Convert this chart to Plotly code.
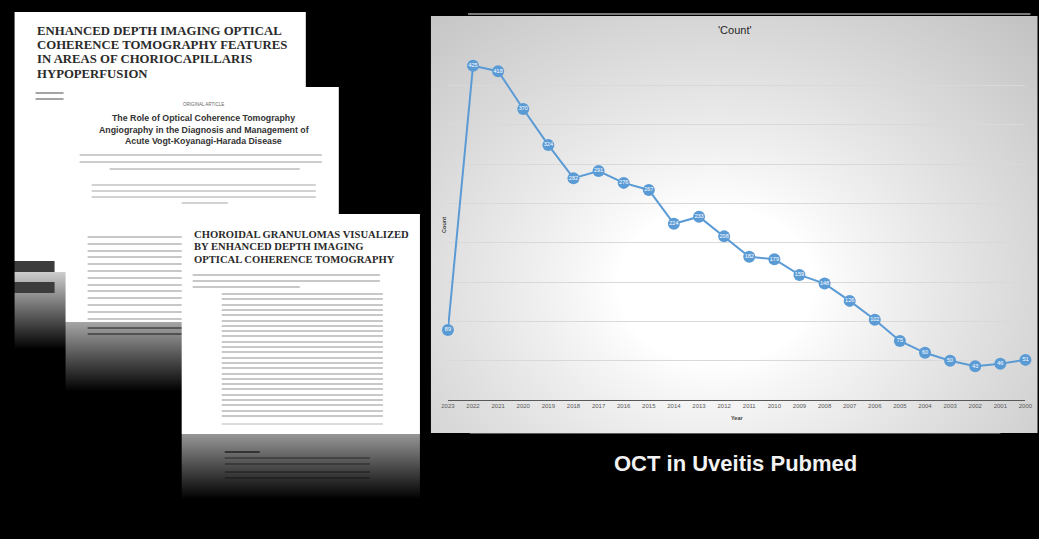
import base64
import struct
import zlib

import numpy as np
import plotly.graph_objects as go

# ---------------- data ----------------
years = ["2023", "2022", "2021", "2020", "2019", "2018", "2017", "2016", "2015", "2014", "2013", "2012",
         "2011", "2010", "2009", "2008", "2007", "2006", "2005", "2004", "2003", "2002", "2001", "2000"]
counts = [89, 425, 418, 370, 324, 282, 291, 276, 267, 224, 233, 208,
          182, 179, 159, 148, 126, 102, 75, 60, 50, 43, 46, 51]

chart_title = "'Count'"
x_title = "Year"
y_title = "Count"
slide_title = "OCT in Uveitis Pubmed"

doc1_title = ["ENHANCED DEPTH IMAGING OPTICAL", "COHERENCE TOMOGRAPHY FEATURES",
              "IN AREAS OF CHORIOCAPILLARIS", "HYPOPERFUSION"]
doc2_kicker = "ORIGINAL ARTICLE"
doc2_title = ["The Role of Optical Coherence Tomography",
              "Angiography in the Diagnosis and Management of",
              "Acute Vogt-Koyanagi-Harada Disease"]
doc3_title = ["CHOROIDAL GRANULOMAS VISUALIZED", "BY ENHANCED DEPTH IMAGING",
              "OPTICAL COHERENCE TOMOGRAPHY"]

W, H = 1039, 539
# the photographed page comes out slightly squeezed horizontally; compensate
SQ_OFF, SQ_S = 7.5, 0.9856


def SX(x):
    return (x - SQ_OFF) / SQ_S


# ---------------- background picture (slide decoration) ----------------
img = np.zeros((H, W), dtype=float)


def rect(x0, x1, y0, y1, v):
    img[y0:y1, x0:x1] = v


def vfade(x0, x1, y0, y1, v0, v1):
    img[y0:y1, x0:x1] = np.linspace(v0, v1, y1 - y0)[:, None]


def textlines(x0, x1, ys, v, scale=False):
    for y in ys:
        yi = int(round(y))
        if scale:
            img[yi:yi + 2, x0:x1] *= v / 255.0
        else:
            img[yi:yi + 2, x0:x1] = np.minimum(img[yi:yi + 2, x0:x1], v)


# document 1
rect(15, 306, 12, 272, 255)
vfade(15, 306, 272, 350, 205, 0)
rect(15, 55, 261, 272, 60)
rect(15, 55, 282, 293, 60)
textlines(36, 64, [92, 98], 165)

# document 2
rect(66, 339, 87, 322, 255)
vfade(66, 339, 322, 392, 165, 0)
textlines(80, 322, [154, 161], 205)
textlines(110, 300, [168], 205)
textlines(92, 316, [184, 190, 196], 210)
textlines(182, 228, [202], 210)
textlines(88, 182, list(np.arange(236, 318, 6.8)), 200)
textlines(88, 182, [327, 333], 150, scale=True)

# document 3
rect(182, 420, 214, 434, 255)
vfade(182, 420, 434, 500, 150, 0)
textlines(193, 380, [274, 280], 200)
textlines(193, 300, [286], 200)
textlines(222, 383, list(np.arange(293, 419, 5.3)), 200)
textlines(222, 383, [423], 220)
textlines(225, 260, [451], 120, scale=True)
textlines(225, 370, [457, 463, 471, 477], 180, scale=True)

# chart panel with radial gradient
py, px = np.mgrid[16:433, 431:1037]
r = np.sqrt(((px - 715) * 0.8) ** 2 + (py - 285) ** 2)
t = np.clip((r - 80) / 330.0, 0, 1)
img[16:433, 431:1037] = 255 - 68 * t ** 0.9
rect(468, 1030, 13, 15, 120)
rect(470, 1000, 433, 434, 90)

arr = np.clip(img, 0, 255).astype(np.uint8)


def png_gray(a):
    h, w = a.shape
    raw = b"".join(b"\x00" + a[i].tobytes() for i in range(h))

    def chunk(tp, data):
        return (struct.pack(">I", len(data)) + tp + data +
                struct.pack(">I", zlib.crc32(tp + data) & 0xFFFFFFFF))

    return (b"\x89PNG\r\n\x1a\n" +
            chunk(b"IHDR", struct.pack(">IIBBBBB", w, h, 8, 0, 0, 0, 0)) +
            chunk(b"IDAT", zlib.compress(raw, 9)) + chunk(b"IEND", b""))


bg_uri = "data:image/png;base64," + base64.b64encode(png_gray(arr)).decode()

# ---------------- figure ----------------
blue = "#5b9bd5"
fig = go.Figure()
fig.add_trace(go.Scatter(
    x=years, y=counts, mode="lines+markers+text",
    text=[str(c) for c in counts], textposition="middle center",
    textfont=dict(size=5.5, color="white", family="Liberation Sans"),
    marker=dict(size=12, color=blue),
    line=dict(color=blue, width=2),
    cliponaxis=False, showlegend=False, hoverinfo="x+y",
))


def px2x(x):
    return SX(x) / W


def px2y(y):
    return 1 - y / H


fig.update_layout(
    autosize=True, margin=dict(l=0, r=0, t=0, b=0, pad=0),
    paper_bgcolor="black", plot_bgcolor="rgba(0,0,0,0)",
    font=dict(family="Liberation Sans"),
    images=[dict(source=bg_uri, xref="paper", yref="paper", x=px2x(0), y=1,
                 sizex=px2x(W) - px2x(0), sizey=1,
                 xanchor="left", yanchor="top", sizing="stretch", layer="below")],
    xaxis=dict(type="category", categoryorder="array", categoryarray=years,
               range=[0, len(years) - 1], domain=[px2x(448), px2x(1025)],
               showgrid=False, showline=True, linecolor="#595959", linewidth=1.3,
               ticks="", tickfont=dict(size=6, color="#595959"), zeroline=False),
    yaxis=dict(range=[0, 450], dtick=50, tick0=0, domain=[px2y(400), px2y(46)],
               showticklabels=False, showgrid=True, gridcolor="#d9d9d9", gridwidth=1,
               zeroline=False, showline=False),
)

ann = []


def A(text, x, y, size, color, xanchor="center", family="Liberation Sans", bold=False, angle=0):
    ann.append(dict(text=("<b>%s</b>" % text) if bold else text, x=px2x(x), y=px2y(y),
                    xref="paper", yref="paper", xanchor=xanchor, yanchor="middle",
                    showarrow=False, textangle=angle,
                    font=dict(size=size, color=color, family=family)))


A(chart_title, 735, 30, 11, "#262626")
A(x_title, 737, 418, 5.5, "#404040", bold=True)
A(y_title, 444, 225, 5.5, "#404040", bold=True, angle=-90)
A(slide_title, 735, 463, 22, "#f2f2f2", bold=True)

for i, line in enumerate(doc1_title):
    A(line, 35, 31 + i * 14.2, 12.75, "#2a2a2a", xanchor="left", family="Liberation Serif", bold=True)
A(doc2_kicker, 204, 104, 4.5, "#666666")
for i, line in enumerate(doc2_title):
    A(line, 204, 118 + i * 11.6, 8.8, "#333333", bold=True)
for i, line in enumerate(doc3_title):
    A(line, 192, 234 + i * 12.5, 10.6, "#2a2a2a", xanchor="left", family="Liberation Serif", bold=True)

fig.update_layout(annotations=ann)

post = ("document.documentElement.style.margin='0';document.body.style.margin='0';"
        "document.documentElement.style.overflow='hidden';document.body.style.overflow='hidden';"
        "var gd=document.getElementById('{plot_id}');gd.style.width='100vw';gd.style.height='100vh';"
        "Plotly.Plots.resize(gd);")

fig.write_html("out.html", config={"displayModeBar": False},
               default_width="100vw", default_height="100vh", post_script=post)
